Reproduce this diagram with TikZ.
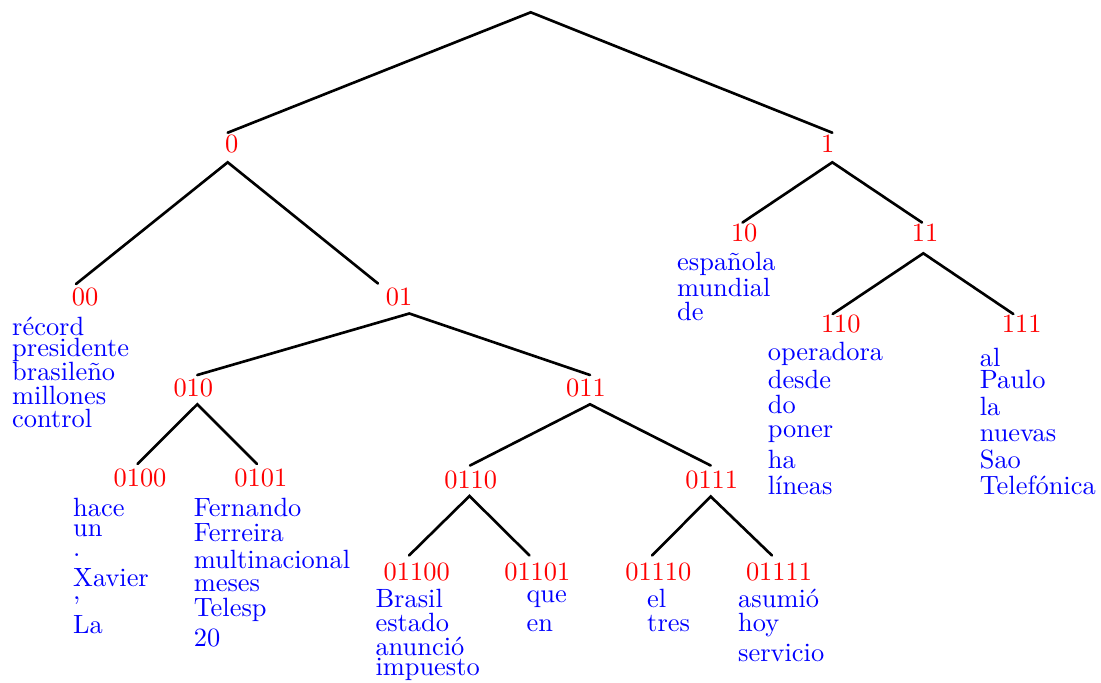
\documentclass[tikz,border=0pt]{standalone}
\begin{document}
\begin{tikzpicture}[x=0.37879pt,y=-0.37879pt,
  edge/.style={line width=1pt,line cap=round},
  code/.style={text=red,anchor=base,inner sep=0pt},
  word/.style={text=blue,anchor=base west,inner sep=0pt}]
\useasboundingbox (0,0) rectangle (1101,682);

% word lists: name prefix, left edge, word/baseline pairs
\newcommand\wordlist[3]{%
  \foreach \w/\y [count=\i] in {#3} {\node[word] (#1-\i) at (#2,\y) {\w};}}

% branching points of the tree
\coordinate (r) at (530.7,12.3);
\coordinate (n0t) at (227.7,132.7);   \coordinate (n0b) at (227.7,162.3);
\coordinate (n1t) at (832.3,132.7);   \coordinate (n1b) at (832.3,162.3);
\coordinate (n00t) at (76,284);
\coordinate (n01t) at (378,283.5);    \coordinate (n01b) at (409.3,313.5);
\coordinate (n10t) at (742.5,222.5);
\coordinate (n11t) at (922,222.5);    \coordinate (n11b) at (923.3,253.3);
\coordinate (n110t) at (832.7,314);   \coordinate (n111t) at (1013.3,314);
\coordinate (n010t) at (197.3,375);   \coordinate (n010b) at (197.3,404.3);
\coordinate (n011t) at (590,375);     \coordinate (n011b) at (590,404.3);
\coordinate (n0100t) at (137.5,464);  \coordinate (n0101t) at (257,464);
\coordinate (n0110t) at (470,465.5);  \coordinate (n0110b) at (469.5,496);
\coordinate (n0111t) at (710.7,465.5);\coordinate (n0111b) at (710.7,496.5);
\coordinate (n01100t) at (409,555.5); \coordinate (n01101t) at (529.5,555.5);
\coordinate (n01110t) at (652,555.5); \coordinate (n01111t) at (772,555.5);

% edges
\draw[edge] (n0t) -- (r) -- (n1t);
\draw[edge] (n00t) -- (n0b) -- (n01t);
\draw[edge] (n10t) -- (n1b) -- (n11t);
\draw[edge] (n110t) -- (n11b) -- (n111t);
\draw[edge] (n010t) -- (n01b) -- (n011t);
\draw[edge] (n0100t) -- (n010b) -- (n0101t);
\draw[edge] (n0110t) -- (n011b) -- (n0111t);
\draw[edge] (n01100t) -- (n0110b) -- (n01101t);
\draw[edge] (n01110t) -- (n0111b) -- (n01111t);

% codes
\node[code] (c0) at (231.7,152.7) {0};
\node[code] (c1) at (827.7,152.7) {1};
\node[code] (c00) at (85,305) {00};
\node[code] (c01) at (399,305) {01};
\node[code] (c10) at (744.2,241.7) {10};
\node[code] (c11) at (925,241.7) {11};
\node[code] (c110) at (840.8,332.7) {110};
\node[code] (c111) at (1021.7,332.7) {111};
\node[code] (c010) at (193.3,396) {010};
\node[code] (c011) at (586,396) {011};
\node[code] (c0100) at (140,486.7) {0100};
\node[code] (c0101) at (260.8,486.7) {0101};
\node[code] (c0110) at (470.7,488.3) {0110};
\node[code] (c0111) at (711.7,488.3) {0111};
\node[code] (c01100) at (416.7,580) {01100};
\node[code] (c01101) at (537.3,580) {01101};
\node[code] (c01110) at (658.3,580) {01110};
\node[code] (c01111) at (779,580) {01111};

% words attached to the leaves
\wordlist{w00}{11.7}{récord/335, presidente/356, brasileño/380, millones/404, control/427.3}
\wordlist{w10}{676.7}{española/270, mundial/296, de/320.7}
\wordlist{w110}{767.3}{operadora/360, desde/388.3, do/413.3, poner/437.3, ha/468.3, líneas/494}
\wordlist{w111}{979.3}{al/366, Paulo/388.3, la/415, nuevas/441.7, Sao/468.3, Telefónica/494}
\wordlist{w0100}{72.7}{hace/516.7, un/536.7, ./556.7, Xavier/586.7, {,}/599.5, La/633.3}
\wordlist{w0101}{193.3}{Fernando/516.7, Ferreira/541.7, multinacional/568.3, meses/591.7, Telesp/616.7, 20/646.7}
\wordlist{w01100}{375}{Brasil/607.3, estado/631, anunció/655, impuesto/675.7}
\wordlist{w01101}{526}{que/602.3, en/631}
\wordlist{w01110}{646.7}{el/607.3, tres/631}
\wordlist{w01111}{737.7}{asumió/607.3, hoy/631, servicio/661}
\end{tikzpicture}
\end{document}
